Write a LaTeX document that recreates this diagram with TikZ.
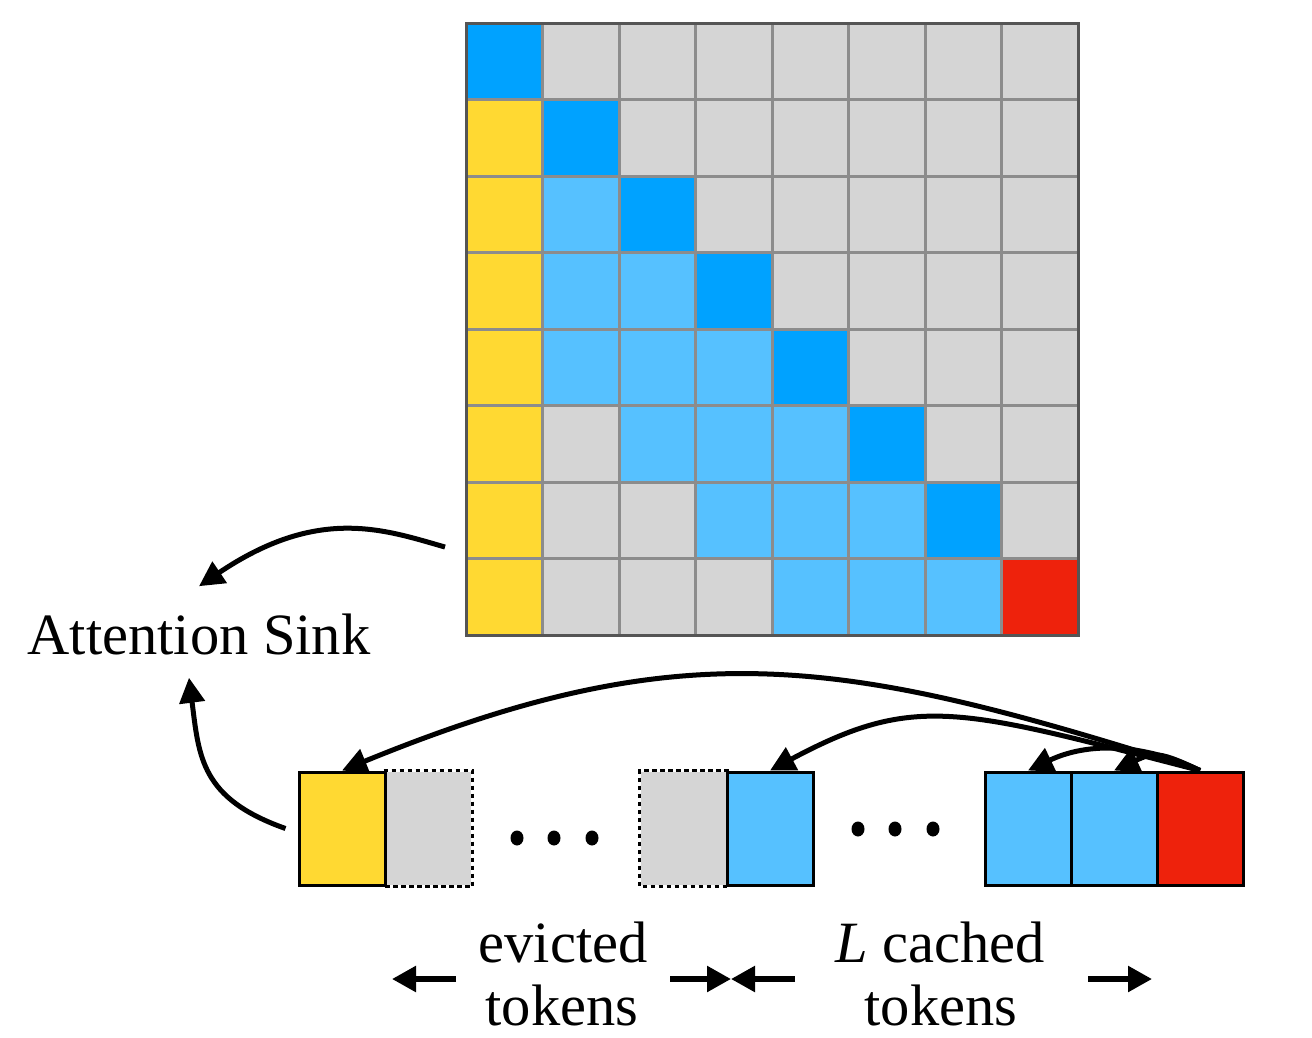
\documentclass[tikz,border=0pt]{standalone}
\usepackage{fontspec}
\setmainfont{Liberation Serif}
\usetikzlibrary{arrows.meta,calc}
\definecolor{dblue}{HTML}{00A2FF}
\definecolor{lblue}{HTML}{56C1FF}
\definecolor{syel}{HTML}{FFD932}
\definecolor{cgrey}{HTML}{D5D5D5}
\definecolor{tred}{HTML}{EE220C}
\definecolor{gline}{HTML}{8C8C8C}
\definecolor{gborder}{HTML}{555555}
\begin{document}
\begin{tikzpicture}[x=1pt,y=-1pt,
  tok/.style={rectangle, minimum width=86pt, minimum height=113pt, inner sep=0pt, line width=3pt},
  solidtok/.style={tok, draw=black},
  dashline/.style={draw=black, line width=3pt, dash pattern=on 4.5pt off 3.5pt},
  lbl/.style={font=\fontsize{58.5}{68}\selectfont, inner sep=0pt},
  arr/.style={line width=5pt, -{Triangle[length=25pt,width=25pt]}},
  barr/.style={line width=5.5pt, -{Triangle[length=24pt,width=25pt]}},
  dot/.style={fill=black}]
\useasboundingbox (0,0) rectangle (1312,1037);

% attention matrix
\foreach \row [count=\r from 0] in {
  {dblue,cgrey,cgrey,cgrey,cgrey,cgrey,cgrey,cgrey},
  {syel,dblue,cgrey,cgrey,cgrey,cgrey,cgrey,cgrey},
  {syel,lblue,dblue,cgrey,cgrey,cgrey,cgrey,cgrey},
  {syel,lblue,lblue,dblue,cgrey,cgrey,cgrey,cgrey},
  {syel,lblue,lblue,lblue,dblue,cgrey,cgrey,cgrey},
  {syel,cgrey,lblue,lblue,lblue,dblue,cgrey,cgrey},
  {syel,cgrey,cgrey,lblue,lblue,lblue,dblue,cgrey},
  {syel,cgrey,cgrey,cgrey,lblue,lblue,lblue,tred}} {
  \foreach \col [count=\c from 0] in \row {
    \fill[\col] ({466+\c*76.5},{23+\r*76.5}) rectangle ++(76.5,76.5);
  }
}
\foreach \i in {1,...,7} {
  \draw[gline, line width=3pt] ({466+\i*76.5},23) -- ++(0,612);
  \draw[gline, line width=3pt] (466,{23+\i*76.5}) -- ++(612,0);
}
\draw[gborder, line width=3pt] (466,23) rectangle (1078,635);

% token row
\node[tok, fill=cgrey] (g1) at (428,828.5) {};
\node[tok, fill=cgrey] (g2) at (684,828.5) {};
\draw[dashline] (g1.north west) -- (g1.north east) -- (g1.south east) -- (g1.south west);
\draw[dashline] (g2.north east) -- (g2.north west) -- (g2.south west) -- (g2.south east);
\node[solidtok, fill=syel] (yel) at (342,828.5) {};
\node[solidtok, fill=lblue] (blue) at (770,828.5) {};
\node[solidtok, fill=lblue] (bl1) at (1028,828.5) {};
\node[solidtok, fill=lblue] (bl2) at (1114,828.5) {};
\node[solidtok, fill=tred] (red) at (1200,828.5) {};

% dots
\foreach \x in {517,554,592} \fill[dot] (\x,838) ellipse [x radius=6.5pt, y radius=7.5pt];
\foreach \x in {858,895,933} \fill[dot] (\x,829) ellipse [x radius=6.5pt, y radius=7.5pt];

% labels
\node[lbl, anchor=base, inner ysep=27pt] (sink) at (199,654) {Attention Sink};
\node[lbl, anchor=base] (ev1) at (563,962) {evicted};
\node[lbl, anchor=base] (ev2) at (562,1025) {tokens};
\node[lbl, anchor=base] (lc1) at (940,962) {{\itshape L} cached};
\node[lbl, anchor=base] (lc2) at (941,1025) {tokens};

% arrows from the newest token
\draw[arr] (red.north) .. controls +(-354,-112) and +(347,-142) .. (yel.north);
\draw[arr] (red.north) .. controls +(-242,-62.5) and +(145,-77.5) .. (blue.north);
\draw[arr] (red.north) .. controls +(-59,-28) and +(59,-28) .. (bl1.north);
\draw[arr] (red.north) .. controls +(-40,-19) and +(40,-18.5) .. (bl2.north);

% arrows to attention sink
\coordinate (gsrc) at (445,547);
\draw[arr] (gsrc) .. controls +(-60,-17) and +(120,-81) .. (sink.north);
\draw[arr] ($(yel.west)+(-12,0)$) .. controls +(-85,-30) and +(10,79) .. ($(sink.south)+(-10,-4)$);

% span arrows
\coordinate (e1) at (456,979);
\coordinate (e2) at (392,979);
\coordinate (m0) at (670,979);
\coordinate (mid) at (731,979);
\coordinate (m1) at (795,979);
\coordinate (c1) at (1088,979);
\coordinate (c2) at (1152,979);
\draw[barr] (e1) -- (e2);
\draw[barr] (m0) -- (mid);
\draw[barr] (m1) -- (mid);
\draw[barr] (c1) -- (c2);
\end{tikzpicture}
\end{document}
